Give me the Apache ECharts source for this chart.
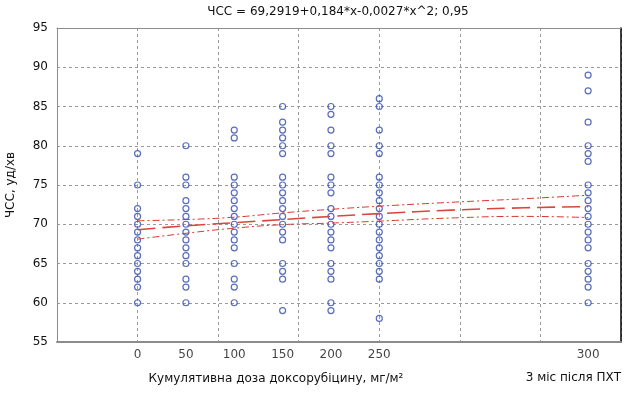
<!DOCTYPE html>
<html>
<head>
<meta charset="utf-8">
<script src="https://cdn.jsdelivr.net/npm/echarts@6/dist/echarts.min.js"></script>
<style>
html,body{margin:0;padding:0;background:#fff;}
#chart{width:634px;height:393px;}
</style>
</head>
<body>
<div id="chart"></div>
<script>
// ---- data ----
const titleText = 'ЧСС = 69,2919+0,184*x-0,0027*x^2; 0,95';
const yName = 'ЧСС, уд/хв';
const xName = 'Кумулятивна доза доксорубіцину, мг/м²';
const lastGroupName = '3 міс після ПХТ';

const groupX = [0, 50, 100, 150, 200, 250, 466];
const tickLabels = ['0', '50', '100', '150', '200', '250', '300'];

const hr0   = [79, 75, 72, 71, 70, 69, 68, 67, 66, 65, 64, 63, 62, 60];
const hr50  = [80, 76, 75, 73, 72, 71, 70, 69, 68, 67, 66, 65, 63, 62, 60];
const hr100 = [82, 81, 76, 75, 74, 73, 72, 71, 70, 69, 68, 67, 65, 63, 62, 60];
const hr150 = [85, 83, 82, 81, 80, 79, 76, 75, 74, 73, 72, 71, 70, 69, 68, 65, 64, 63, 59];
const hr200 = [85, 84, 82, 80, 79, 76, 75, 74, 72, 71, 70, 69, 68, 67, 65, 64, 63, 60, 59];
const hr250 = [86, 85, 82, 80, 79, 76, 75, 74, 73, 72, 71, 70, 69, 68, 67, 66, 65, 64, 63, 58];
const hr3m  = [89, 87, 83, 80, 79, 78, 75, 74, 73, 72, 71, 70, 69, 68, 67, 65, 64, 63, 62, 60];
const groups = [hr0, hr50, hr100, hr150, hr200, hr250, hr3m];

const fitX     = [0, 50, 100, 150, 200, 250, 325, 400, 466];
const fitY     = [69.3, 69.8, 70.2, 70.6, 71.0, 71.35, 71.8, 72.1, 72.25];
const upperY   = [70.45, 70.6, 70.9, 71.45, 71.9, 72.3, 72.8, 73.25, 73.7];
const lowerY   = [68.1, 68.85, 69.5, 69.95, 70.15, 70.4, 70.8, 71.0, 70.85];

const yMin = 55, yMax = 95, yStep = 5;
const xMin = -250 / 3, xMax = 500, xStep = 250 / 3;

// ---- build ----
const pts = [];
groups.forEach((g, i) => g.forEach(v => pts.push([groupX[i], v])));
const zip = (xs, ys) => xs.map((x, i) => [x, ys[i]]);

const FONT = 'DejaVu Sans';
const chart = echarts.init(document.getElementById('chart'), null, {renderer: 'canvas'});
chart.setOption({
  animation: false,
  backgroundColor: '#fff',
  textStyle: {fontFamily: FONT},
  grid: {left: 57, right: 13, top: 28, bottom: 51, show: false, containLabel: false, outerBoundsMode: 'none'},
  graphic: [
    {type: 'text', x: 338, y: 6, style: {text: titleText, font: '12px "DejaVu Sans"', fill: '#111', textAlign: 'center'}},
    {type: 'text', right: 13, top: 372, style: {text: lastGroupName, font: '12px "DejaVu Sans"', fill: '#111', textAlign: 'right'}}
  ],
  xAxis: [{
    type: 'value', min: xMin, max: xMax, interval: xStep,
    axisLine: {show: true, onZero: false, lineStyle: {color: '#8c8c8c', width: 2}},
    axisTick: {show: false},
    axisLabel: {show: false},
    splitLine: {show: true, lineStyle: {color: '#9a9a9a', type: [3, 3], width: 1}},
    name: xName, nameLocation: 'middle', nameGap: 31,
    nameTextStyle: {fontFamily: FONT, fontSize: 12, color: '#111', padding: [0, 126, 0, 0]}
  }, {
    type: 'value', min: xMin, max: xMax, position: 'top',
    axisLine: {show: true, onZero: false, lineStyle: {color: '#8c8c8c', width: 1}},
    axisTick: {show: false}, axisLabel: {show: false}, splitLine: {show: false}
  }],
  yAxis: [{
    type: 'value', min: yMin, max: yMax, interval: yStep,
    axisLine: {show: true, onZero: false, lineStyle: {color: '#8c8c8c', width: 1}},
    axisTick: {show: false},
    axisLabel: {fontFamily: FONT, fontSize: 12, color: '#111', margin: 9},
    splitLine: {show: true, lineStyle: {color: '#9a9a9a', type: [3, 3], width: 1}},
    name: yName, nameLocation: 'middle', nameGap: 40, nameRotate: 90,
    nameTextStyle: {fontFamily: FONT, fontSize: 12, color: '#111'}
  }, {
    type: 'value', min: yMin, max: yMax, position: 'right',
    axisLine: {show: true, onZero: false, lineStyle: {color: '#000', width: 1.5}},
    axisTick: {show: false}, axisLabel: {show: false}, splitLine: {show: false}
  }],
  series: [
    {
      type: 'scatter', data: pts, symbol: 'circle', symbolSize: 6,
      itemStyle: {color: 'rgba(255,255,255,0)', borderColor: '#2f4aae', borderWidth: 1.2},
      z: 3, clip: false
    },
    {
      type: 'line', data: zip(fitX, fitY), symbol: 'none', smooth: true,
      lineStyle: {color: '#d8473a', width: 1.6, type: [18, 7]}, z: 4
    },
    {
      type: 'line', data: zip(fitX, upperY), symbol: 'none', smooth: true,
      lineStyle: {color: '#d8382a', width: 1, type: [7, 3, 2, 3]}, z: 4
    },
    {
      type: 'line', data: zip(fitX, lowerY), symbol: 'none', smooth: true,
      lineStyle: {color: '#d8382a', width: 1, type: [7, 3, 2, 3]}, z: 4
    },
    {
      type: 'scatter', symbolSize: 0, clip: false, silent: true,
      data: groupX.map((x, i) => ({value: [x, yMin], name: tickLabels[i]})),
      label: {show: true, position: 'bottom', distance: 7, formatter: p => p.name,
              fontFamily: FONT, fontSize: 12, color: '#111'}
    }
  ]
});
</script>
</body>
</html>
